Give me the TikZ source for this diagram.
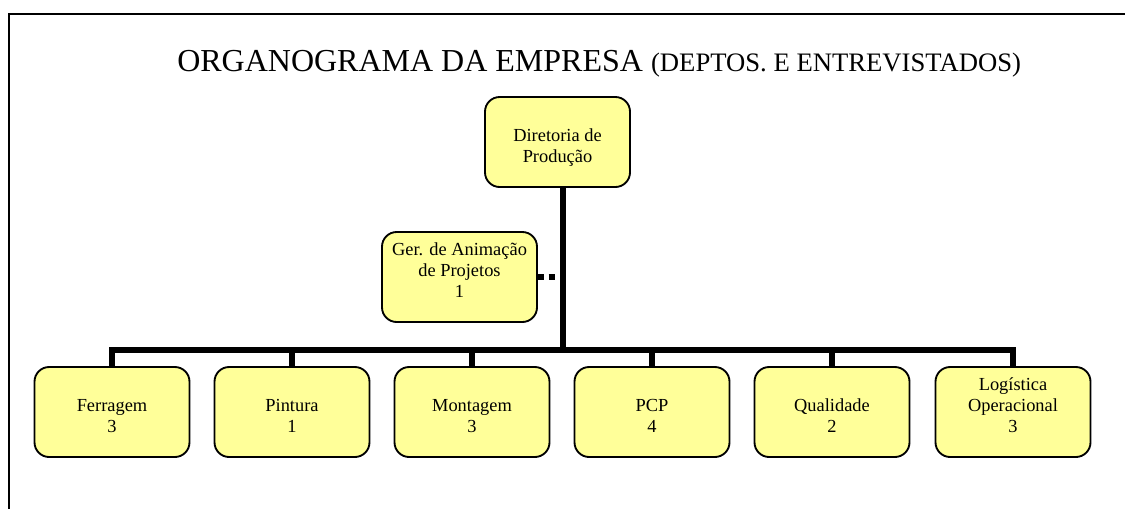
\documentclass[tikz,border=0pt]{standalone}
\usepackage{fontspec}
\setmainfont{Liberation Serif}
\definecolor{boxyellow}{HTML}{FFFF99}
\newcommand\boxtxt[2][116.25pt]{\parbox[c][67.5pt][b]{#1}{\centering #2\strut\par\vspace{14pt}}}
\tikzset{
  unit/.style={draw=black, line width=1.4pt, fill=boxyellow, rounded corners=11pt,
    inner sep=0pt, font=\fontsize{13.8}{15.75}\selectfont},
  conn/.style={draw=black, line width=4.5pt, line join=miter},
  drop/.style={draw=black, line width=3.9pt},
  dots/.style={draw=black, line width=3.9pt, dash pattern=on 4.5pt off 3.5pt},
  frame/.style={draw=black, line width=1.8pt}
}
\begin{document}
\begin{tikzpicture}[x=0.75pt,y=-0.75pt]
\useasboundingbox (0,0) rectangle (1125,508);
\draw[frame] (1126,14) -- (9,14) -- (9,509);
\node[anchor=base west, inner sep=0pt] (title) at (177,71.5)
  {\fontsize{24}{28}\selectfont ORGANOGRAMA DA EMPRESA {\fontsize{20}{24}\selectfont (DEPTOS. E ENTREVISTADOS)}};
\node[unit] (dir) at (557.5,142) {\boxtxt[108.75pt]{Diretoria de\\Produção}};
\node[unit] (ger) at (459.5,277) {\boxtxt{Ger. de Animação\\de Projetos\\1}};
\node[unit] (b1) at (112,412) {\boxtxt{Ferragem\\3}};
\node[unit] (b2) at (292,412) {\boxtxt{Pintura\\1}};
\node[unit] (b3) at (472,412) {\boxtxt{Montagem\\3}};
\node[unit] (b4) at (652,412) {\boxtxt{PCP\\4}};
\node[unit] (b5) at (832,412) {\boxtxt{Qualidade\\2}};
\node[unit] (b6) at (1013,412) {\boxtxt{Logística\\Operacional\\3}};
\coordinate (bus) at (563,350);
\draw[dots] (ger.east) -- ([xshift=-4.5pt]ger.east -| bus);
\draw[conn] (dir.south -| bus) -- (bus);
\draw[conn] (b1.north) -- (b1.north |- bus) -- (b6.north |- bus) -- (b6.north);
\foreach \b in {b2,b3,b4,b5} { \draw[drop] (\b.north) -- (\b.north |- bus); }
\end{tikzpicture}
\end{document}
